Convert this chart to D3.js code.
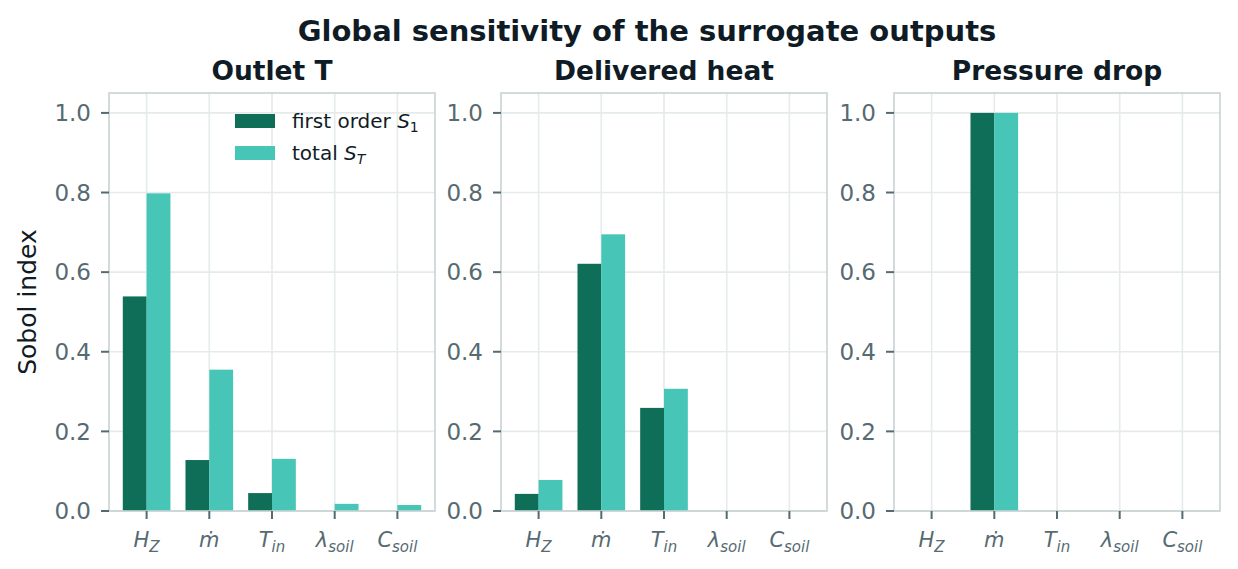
<!DOCTYPE html>
<html>
<head>
<meta charset="utf-8">
<script src="https://cdn.jsdelivr.net/npm/d3@7"></script>
<style>
  body { margin: 0; background: #fff; }
  svg { font-family: "DejaVu Sans", sans-serif; }
</style>
</head>
<body>
<svg id="chart" width="1238" height="569"></svg>
<script>
// Data
const panelTitles = ['Outlet T', 'Delivered heat', 'Pressure drop'];
const categories = [
  { base: 'H', sub: 'Z' },
  { base: 'ṁ', sub: '' },
  { base: 'T', sub: 'in' },
  { base: 'λ', sub: 'soil' },
  { base: 'C', sub: 'soil' }
];
const firstOrder = [
  [0.539, 0.128, 0.045, 0, 0],
  [0.043, 0.621, 0.259, 0, 0],
  [0, 1.0, 0, 0, 0]
];
const totalOrder = [
  [0.798, 0.355, 0.131, 0.018, 0.015],
  [0.078, 0.695, 0.307, 0, 0],
  [0, 1.0, 0, 0, 0]
];
const yTicks = [0, 0.2, 0.4, 0.6, 0.8, 1.0];

const darkCol = '#0f6e57';
const lightCol = '#47c6b8';
const textCol = '#0f1c26';
const tickCol = '#566a72';
const spineCol = '#c8d3d3';
const gridCol = '#e5ebea';

const svg = d3.select('#chart');

// Layout of the three panels
const panelLefts = [109, 501, 894];
const panelW = 326;
const panelTop = 93;
const panelH = 418;

const x = d3.scaleLinear().domain([-0.6, 4.6]).range([0, panelW]);
const y = d3.scaleLinear().domain([0, 1.05]).range([panelH, 0]);
const barW = x(0.38) - x(0);

// Suptitle
svg.append('text')
  .attr('x', 647).attr('y', 41)
  .attr('text-anchor', 'middle')
  .attr('font-size', 29).attr('font-weight', 'bold')
  .attr('fill', textCol)
  .text('Global sensitivity of the surrogate outputs');

panelTitles.forEach((title, p) => {
  const g = svg.append('g').attr('transform', `translate(${panelLefts[p]},${panelTop})`);

  // grid
  g.selectAll('line.hgrid').data(yTicks).enter().append('line')
    .attr('x1', 0).attr('x2', panelW)
    .attr('y1', d => y(d)).attr('y2', d => y(d))
    .attr('stroke', gridCol).attr('stroke-width', 1.6);
  g.selectAll('line.vgrid').data(categories).enter().append('line')
    .attr('x1', (d, i) => x(i)).attr('x2', (d, i) => x(i))
    .attr('y1', 0).attr('y2', panelH)
    .attr('stroke', gridCol).attr('stroke-width', 1.6);

  // bars
  g.selectAll('rect.s1').data(firstOrder[p]).enter().append('rect')
    .attr('x', (d, i) => x(i) - barW)
    .attr('y', d => y(d))
    .attr('width', barW)
    .attr('height', d => y(0) - y(d))
    .attr('fill', darkCol);
  g.selectAll('rect.st').data(totalOrder[p]).enter().append('rect')
    .attr('x', (d, i) => x(i))
    .attr('y', d => y(d))
    .attr('width', barW)
    .attr('height', d => y(0) - y(d))
    .attr('fill', lightCol);

  // spines
  g.append('rect')
    .attr('x', 0).attr('y', 0).attr('width', panelW).attr('height', panelH)
    .attr('fill', 'none').attr('stroke', spineCol).attr('stroke-width', 1.6);

  // y ticks
  const yt = g.selectAll('g.ytick').data(yTicks).enter().append('g')
    .attr('transform', d => `translate(0,${y(d)})`);
  yt.append('line').attr('x1', -8).attr('x2', 0)
    .attr('stroke', tickCol).attr('stroke-width', 2);
  yt.append('text')
    .attr('x', -18).attr('dy', '0.36em')
    .attr('text-anchor', 'end')
    .attr('font-size', 23).attr('fill', tickCol)
    .text(d => d.toFixed(1));

  // x ticks
  const xt = g.selectAll('g.xtick').data(categories).enter().append('g')
    .attr('transform', (d, i) => `translate(${x(i)},${panelH})`);
  xt.append('line').attr('y1', 0).attr('y2', 8)
    .attr('stroke', tickCol).attr('stroke-width', 2);
  const lbl = xt.append('text')
    .attr('y', 36)
    .attr('text-anchor', 'middle')
    .attr('font-size', 21).attr('fill', tickCol)
    .attr('font-style', 'italic');
  lbl.append('tspan').text(d => d.base);
  lbl.append('tspan')
    .attr('font-size', 15).attr('dy', 5)
    .text(d => d.sub);

  // panel title
  svg.append('text')
    .attr('x', panelLefts[p] + panelW / 2).attr('y', 80)
    .attr('text-anchor', 'middle')
    .attr('font-size', 26.5).attr('font-weight', 'bold')
    .attr('fill', textCol)
    .text(title);
});

// y label
svg.append('text')
  .attr('transform', 'translate(36,302) rotate(-90)')
  .attr('text-anchor', 'middle')
  .attr('font-size', 25).attr('fill', textCol)
  .text('Sobol index');

// legend
const legend = svg.append('g').attr('transform', 'translate(235,114)');
const legendItems = [
  { label: 'first order ', sym: 'S', sub: '1', subItalic: false, color: darkCol },
  { label: 'total ', sym: 'S', sub: 'T', subItalic: true, color: lightCol }
];
const li = legend.selectAll('g').data(legendItems).enter().append('g')
  .attr('transform', (d, i) => `translate(0,${i * 32})`);
li.append('rect').attr('width', 40).attr('height', 14).attr('fill', d => d.color);
const lt = li.append('text').attr('x', 57).attr('y', 14)
  .attr('font-size', 20).attr('fill', textCol);
lt.append('tspan').text(d => d.label);
lt.append('tspan').attr('font-style', 'italic').text(d => d.sym);
lt.append('tspan').attr('font-size', 14).attr('dy', 4)
  .attr('font-style', d => d.subItalic ? 'italic' : 'normal')
  .text(d => d.sub);
</script>
</body>
</html>
